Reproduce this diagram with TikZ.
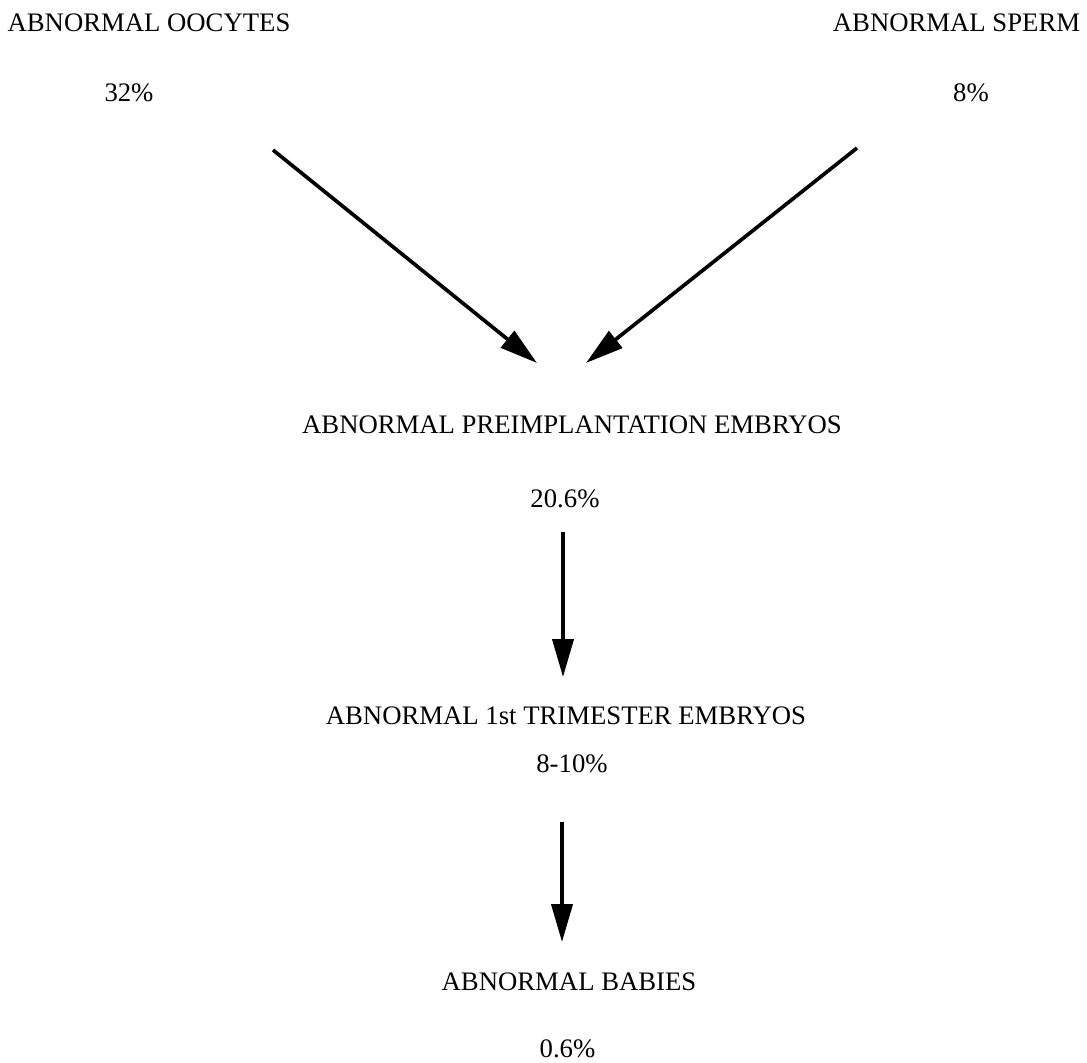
\documentclass[tikz,border=0pt]{standalone}
\usepackage{fontspec}
\setmainfont{Liberation Serif}
\usetikzlibrary{arrows.meta}

\tikzset{
    lbl/.style={font=\fontsize{19}{22}\selectfont, inner sep=0pt},
    arr/.style={line width=2.6pt, -{Triangle[length=27pt,width=15pt]}}
}

\begin{document}
\begin{tikzpicture}[x=0.025cm,y=-0.025cm]
        \useasboundingbox (0,0) rectangle (1087,1063);

        \node[lbl] (oocytes) at (149,22.5) {ABNORMAL OOCYTES};
        \node[lbl] (oocpct) at (129,93) {32\%};
        \node[lbl] (sperm) at (956.5,22.5) {ABNORMAL SPERM};
        \node[lbl] (sppct) at (971,93) {8\%};

        \node[lbl] (preimp) at (572,425) {ABNORMAL PREIMPLANTATION EMBRYOS};
        \node[lbl] (prepct) at (565,499) {20.6\%};
        \node[lbl] (trim) at (566,716) {ABNORMAL 1st TRIMESTER EMBRYOS};
        \node[lbl] (trimpct) at (572,764) {8-10\%};
        \node[lbl] (babies) at (569,982) {ABNORMAL BABIES};
        \node[lbl] (babpct) at (567.5,1049) {0.6\%};

        % arrow ends
        \coordinate (ooc-s) at (273,150);
        \coordinate (ooc-e) at (537,363);
        \coordinate (sp-s) at (857,148);
        \coordinate (sp-e) at (586,363);
        \coordinate (pre-s) at (563,532);
        \coordinate (pre-e) at (563,677);
        \coordinate (tri-s) at (562,822);
        \coordinate (tri-e) at (562,942);

        \draw[arr] (ooc-s) -- (ooc-e);
        \draw[arr] (sp-s) -- (sp-e);
        \draw[arr] (pre-s) -- (pre-e);
        \draw[arr] (tri-s) -- (tri-e);
    \end{tikzpicture}
\end{document}
